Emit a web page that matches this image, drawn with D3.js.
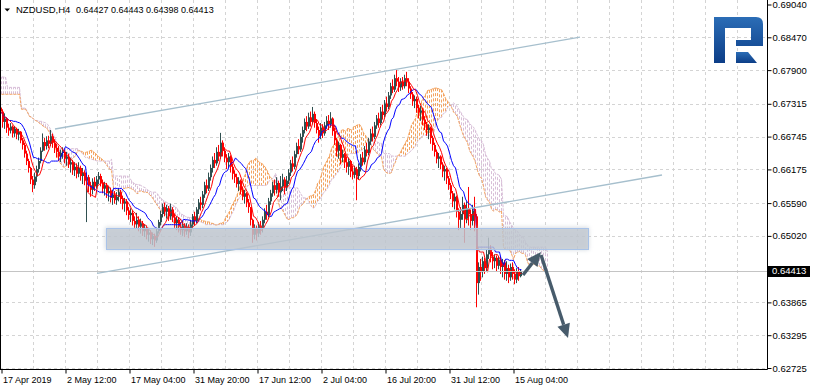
<!DOCTYPE html>
<html>
<head>
<meta charset="utf-8">
<script src="https://cdn.jsdelivr.net/npm/d3@7"></script>
<style>
  html, body { margin: 0; padding: 0; background: #fff; }
  svg { display: block; }
</style>
</head>
<body>
<div id="chart"></div>
<script>
// NZDUSD H4, one entry per two H4 bars, prices in pips (0.0001)
const symbol = "NZDUSD,H4"
const lastBar = [0.64427, 0.64443, 0.64398, 0.64413]
const lastPrice = 0.64413
const firstOpen = 6725

const closes = [
  6718,6700,6706,6690,6685,6692,6680,6688,6678,6683,
  6668,6660,6645,6632,6620,6600,6590,6605,6618,6632,
  6650,6665,6658,6668,6662,6675,6664,6655,6648,6640,
  6646,6648,6636,6640,6626,6630,6616,6622,6610,6620,
  6606,6612,6598,6604,6590,6582,6596,6588,6600,6606,
  6594,6584,6590,6576,6580,6568,6574,6564,6570,6578,
  6566,6558,6562,6546,6538,6542,6528,6522,6530,6518,
  6524,6510,6516,6504,6508,6496,6502,6494,6510,6526,
  6540,6552,6544,6550,6536,6548,6534,6524,6530,6518,
  6512,6520,6510,6518,6508,6522,6536,6528,6548,6560,
  6556,6574,6590,6584,6604,6620,6634,6628,6648,6640,
  6664,6650,6638,6630,6640,6622,6610,6604,6592,6598,
  6582,6570,6576,6560,6552,6530,6504,6516,6506,6520,
  6514,6530,6544,6538,6562,6576,6590,6582,6594,6578,
  6588,6600,6586,6598,6612,6628,6622,6644,6658,6652,
  6674,6686,6700,6692,6708,6700,6714,6698,6686,6676,
  6690,6680,6694,6702,6696,6706,6684,6668,6650,6660,
  6638,6644,6630,6622,6632,6614,6608,6618,6606,6622,
  6638,6630,6652,6646,6666,6680,6674,6694,6706,6698,
  6718,6712,6732,6726,6746,6762,6756,6776,6770,6760,
  6770,6762,6776,6770,6758,6748,6736,6740,6724,6716,
  6720,6704,6696,6686,6690,6672,6660,6648,6636,6640,
  6626,6614,6618,6602,6590,6576,6562,6570,6544,6530,
  6540,6556,6532,6550,6540,6528,6546,6536,6420,6448,
  6440,6458,6446,6470,6480,6466,6458,6464,6450,6460,
  6448,6456,6436,6446,6430,6448,6436,6426,6440,6432,
  6441
]
const highs = [
  6729,6722,6715,6708,6697,6698,6694,6693,6690,6688,
  6684,6672,6664,6650,6636,6622,6606,6612,6624,6638,
  6656,6680,6672,6675,6676,6686,6680,6670,6662,6658,
  6652,6656,6652,6648,6645,6638,6634,6630,6628,6630,
  6624,6620,6616,6612,6608,6596,6602,6604,6606,6613,
  6610,6600,6596,6594,6588,6586,6582,6580,6578,6585,
  6582,6572,6568,6566,6552,6550,6546,6536,6542,6536,
  6532,6528,6522,6520,6516,6512,6508,6506,6516,6530,
  6546,6558,6560,6556,6554,6558,6552,6540,6536,6534,
  6526,6528,6524,6524,6522,6530,6540,6544,6552,6566,
  6570,6580,6596,6600,6612,6626,6640,6646,6656,6660,
  6681,6668,6656,6644,6646,6642,6628,6616,6610,6604,
  6600,6588,6582,6578,6566,6550,6532,6522,6520,6526,
  6528,6536,6550,6556,6568,6582,6596,6600,6604,6598,
  6606,6610,6604,6606,6618,6634,6640,6650,6664,6670,
  6680,6692,6706,6710,6716,6718,6726,6718,6704,6692,
  6698,6696,6700,6710,6712,6717,6708,6690,6672,6666,
  6662,6652,6646,6640,6638,6634,6624,6624,6622,6628,
  6644,6648,6658,6664,6672,6688,6692,6700,6712,6716,
  6726,6730,6738,6744,6752,6768,6774,6782,6790,6778,
  6776,6778,6782,6787,6776,6762,6752,6746,6744,6730,
  6728,6724,6710,6700,6696,6692,6676,6664,6652,6646,
  6642,6630,6624,6620,6606,6594,6580,6576,6572,6550,
  6552,6570,6560,6562,6587,6548,6556,6570,6540,6456,
  6462,6466,6464,6478,6499,6486,6474,6470,6468,6466,
  6466,6462,6460,6458,6452,6454,6456,6444,6446,6448,
  6444
]
const lows = [
  6705,6690,6688,6681,6676,6680,6673,6674,6670,6668,
  6663,6652,6638,6625,6612,6592,6578,6584,6596,6612,
  6628,6648,6650,6652,6654,6658,6655,6646,6638,6632,
  6630,6636,6628,6624,6620,6612,6608,6606,6602,6604,
  6598,6592,6590,6526,6578,6570,6574,6580,6584,6592,
  6588,6576,6572,6568,6562,6560,6556,6558,6556,6562,
  6558,6548,6544,6538,6530,6526,6520,6516,6514,6510,
  6506,6502,6500,6496,6492,6488,6486,6483,6490,6506,
  6520,6534,6536,6532,6528,6530,6526,6516,6512,6508,
  6504,6502,6500,6504,6498,6502,6516,6520,6524,6540,
  6546,6550,6568,6576,6580,6598,6612,6620,6624,6632,
  6636,6640,6630,6618,6620,6612,6600,6594,6586,6580,
  6574,6564,6558,6552,6542,6520,6490,6496,6494,6500,
  6504,6508,6524,6530,6534,6556,6570,6572,6576,6570,
  6564,6580,6574,6580,6592,6606,6614,6618,6638,6644,
  6648,6664,6680,6684,6688,6692,6696,6690,6680,6664,
  6670,6672,6676,6688,6686,6690,6676,6660,6640,6636,
  6626,6630,6620,6612,6608,6604,6600,6602,6564,6600,
  6614,6624,6626,6640,6642,6660,6666,6670,6688,6690,
  6694,6704,6708,6718,6722,6740,6750,6752,6762,6752,
  6754,6756,6758,6762,6750,6740,6728,6724,6716,6706,
  6702,6694,6686,6676,6670,6662,6650,6640,6628,6620,
  6618,6604,6598,6592,6582,6566,6552,6548,6534,6512,
  6514,6530,6490,6524,6520,6512,6520,6510,6378,6400,
  6424,6430,6436,6440,6462,6456,6444,6446,6440,6444,
  6436,6430,6426,6424,6420,6424,6426,6418,6420,6424,
  6430
]

// cloud over the first candles (built from bars left of the window)
const spanAStart = [6748,6748,6748,6748,6748,6748,6748,6748,6748,6748,6722,6722,6722]
const spanBStart = [6778,6778,6778,6760,6760,6760,6760,6760,6760,6760,6724,6724,6724]

// Ichimoku 9/26/52 expressed in 8h candles
const tenkanPeriod = 5
const kijunPeriod = 13
const senkouPeriod = 26
const cloudShift = 13

const priceTicks = [0.69040, 0.68470, 0.67900, 0.67315, 0.66745, 0.66175, 0.65590, 0.65020, 0.64413, 0.63865, 0.63295, 0.62725]
const timeLabels = ["17 Apr 2019", "2 May 12:00", "17 May 04:00", "31 May 20:00", "17 Jun 12:00", "2 Jul 04:00", "16 Jul 20:00", "31 Jul 12:00", "15 Aug 04:00"]
const labelEvery = 32
const gridEvery = 16

// drawn objects, [candle index, price]
const upperChannel = [[27, 0.66877], [289.5, 0.68475]]
const lowerChannel = [[48, 0.64367], [330.5, 0.66078]]
const supportZone = [[52.5, 0.65157], [293.5, 0.64792]]
const arrows = [
  [[261, 0.64341], [270, 0.64740]],
  [[270, 0.64688], [283.5, 0.63246]]
]

const W = 813, H = 390
const plotRight = 767, plotBottom = 369

const svg = d3.select('#chart').append('svg')
  .attr('width', W)
  .attr('height', H)
  .style('font-family', '"Liberation Sans", Arial, sans-serif')

const x = d3.scaleLinear().domain([0, 383]).range([1, 767])
const y = d3.scaleLinear().domain([0.62725, 0.69040]).range([368, 4.5])
const pip = v => v / 10000

const defs = svg.append('defs')
defs.append('clipPath').attr('id', 'plot')
  .append('rect').attr('x', 0).attr('y', 0).attr('width', plotRight).attr('height', plotBottom)
defs.append('filter').attr('id', 'soft')
  .attr('x', '-5%').attr('y', '-60%').attr('width', '110%').attr('height', '220%')
  .append('feGaussianBlur').attr('stdDeviation', 2.2)
const grad = defs.append('linearGradient').attr('id', 'logoGrad')
  .attr('x1', 0).attr('y1', 0).attr('x2', 0).attr('y2', 1)
grad.append('stop').attr('offset', '0%').attr('stop-color', '#2b6db6')
grad.append('stop').attr('offset', '100%').attr('stop-color', '#0c3d87')

const plot = svg.append('g').attr('clip-path', 'url(#plot)')

// grid
const gridColor = '#d4d4d4'
plot.append('g').selectAll('line')
  .data(priceTicks.slice(1))
  .join('line')
  .attr('x1', 0).attr('x2', plotRight)
  .attr('y1', d => Math.round(y(d)) + 0.5)
  .attr('y2', d => Math.round(y(d)) + 0.5)
  .attr('stroke', gridColor)
  .attr('stroke-dasharray', '3,3')

plot.append('g').selectAll('line')
  .data(d3.range(gridEvery, 384, gridEvery))
  .join('line')
  .attr('x1', d => x(d) + 0.5).attr('x2', d => x(d) + 0.5)
  .attr('y1', 0).attr('y2', plotBottom)
  .attr('stroke', gridColor)
  .attr('stroke-dasharray', '3,3')

// ichimoku
function midRange(period, i) {
  const from = Math.max(0, i - period + 1)
  return (d3.max(highs.slice(from, i + 1)) + d3.min(lows.slice(from, i + 1))) / 2
}
const tenkan = closes.map((c, i) => midRange(tenkanPeriod, i))
const kijun = closes.map((c, i) => midRange(kijunPeriod, i))
const cloud = []
spanAStart.forEach((a, i) => cloud.push({i: i, a: a, b: spanBStart[i]}))
closes.forEach((c, i) => {
  cloud.push({i: i + cloudShift, a: (tenkan[i] + kijun[i]) / 2, b: midRange(senkouPeriod, i)})
})

const sandy = '#f4a460', thistle = '#d8bfd8'
plot.append('g').selectAll('line')
  .data(cloud)
  .join('line')
  .attr('x1', d => x(d.i) + 0.5).attr('x2', d => x(d.i) + 0.5)
  .attr('y1', d => y(pip(d.a))).attr('y2', d => y(pip(d.b)))
  .attr('stroke', d => d.a >= d.b ? sandy : thistle)
  .attr('stroke-dasharray', '3,2')

const spanLine = key => d3.line().x(d => x(d.i) + 0.5).y(d => y(pip(d[key])))
plot.append('path').datum(cloud).attr('d', spanLine('b'))
  .attr('fill', 'none').attr('stroke', thistle).attr('stroke-dasharray', '3,1')
plot.append('path').datum(cloud).attr('d', spanLine('a'))
  .attr('fill', 'none').attr('stroke', sandy).attr('stroke-dasharray', '3,1')

// candles
const candles = closes.map((c, i) => {
  const o = i ? closes[i - 1] : firstOpen
  return {i: i, o: o, c: c, h: Math.max(highs[i], o, c), l: Math.min(lows[i], o, c)}
})
const candleColor = d => d.c >= d.o ? '#2f4f4f' : '#ff0000'

plot.append('g').selectAll('rect')
  .data(candles)
  .join('rect')
  .attr('x', d => x(d.i) - 1)
  .attr('width', 1)
  .attr('y', d => y(pip(d.h)))
  .attr('height', d => Math.max(1, y(pip(d.l)) - y(pip(d.h))))
  .attr('fill', candleColor)

plot.append('g').selectAll('rect')
  .data(candles)
  .join('rect')
  .attr('x', d => x(d.i) - 1)
  .attr('width', 2)
  .attr('y', d => y(pip(Math.max(d.o, d.c))))
  .attr('height', d => Math.max(1, Math.abs(y(pip(d.o)) - y(pip(d.c)))))
  .attr('fill', candleColor)

const indLine = d3.line().x((d, i) => x(i) + 0.5).y(d => y(pip(d)))
plot.append('path').datum(kijun).attr('d', indLine)
  .attr('fill', 'none').attr('stroke', '#0000ff').attr('stroke-width', 1)
plot.append('path').datum(tenkan).attr('d', indLine)
  .attr('fill', 'none').attr('stroke', '#ff0000').attr('stroke-width', 1)

// last price line
plot.append('line')
  .attr('x1', 0).attr('x2', plotRight)
  .attr('y1', Math.round(y(lastPrice)) + 0.5).attr('y2', Math.round(y(lastPrice)) + 0.5)
  .attr('stroke', '#c4c4c4')

// channel
const chan = d3.line().x(d => x(d[0])).y(d => y(d[1]))
;[upperChannel, lowerChannel].forEach(pts => {
  plot.append('path').attr('d', chan(pts))
    .attr('fill', 'none').attr('stroke', '#a6bfcd').attr('stroke-width', 1.3)
})

// zone
const zx = x(supportZone[0][0]), zw = x(supportZone[1][0]) - zx
const zy = y(supportZone[0][1]), zh = y(supportZone[1][1]) - zy
plot.append('rect')
  .attr('x', zx - 1).attr('y', zy - 1).attr('width', zw + 2).attr('height', zh + 2)
  .attr('fill', '#a9b3c0').attr('opacity', 0.45).attr('filter', 'url(#soft)')
plot.append('rect')
  .attr('x', zx + 0.5).attr('y', zy + 0.5).attr('width', zw).attr('height', zh)
  .attr('fill', 'rgba(192,199,208,0.72)')
  .attr('stroke', '#a8c2e8').attr('stroke-width', 1)

// arrows
const arrowColor = '#475b6b'
arrows.forEach(pts => {
  const x0 = x(pts[0][0]), y0 = y(pts[0][1])
  const x1 = x(pts[1][0]), y1 = y(pts[1][1])
  const ang = Math.atan2(y1 - y0, x1 - x0)
  const headLen = 14, headHalf = 6.5
  const bx = x1 - headLen * Math.cos(ang), by = y1 - headLen * Math.sin(ang)
  plot.append('line')
    .attr('x1', x0).attr('y1', y0).attr('x2', bx).attr('y2', by)
    .attr('stroke', arrowColor).attr('stroke-width', 3.4)
  const nx = -Math.sin(ang), ny = Math.cos(ang)
  plot.append('path')
    .attr('d', `M${x1},${y1}L${bx + nx * headHalf},${by + ny * headHalf}L${bx - nx * headHalf},${by - ny * headHalf}Z`)
    .attr('fill', arrowColor)
})

// frame
svg.append('line').attr('x1', 0.5).attr('x2', 0.5).attr('y1', 0).attr('y2', plotBottom + 0.5)
  .attr('stroke', '#000')
svg.append('line').attr('x1', 0).attr('x2', plotRight + 0.5).attr('y1', plotBottom + 0.5).attr('y2', plotBottom + 0.5)
  .attr('stroke', '#000')
svg.append('line').attr('x1', plotRight + 0.5).attr('x2', plotRight + 0.5).attr('y1', 0).attr('y2', plotBottom + 0.5)
  .attr('stroke', '#000')

// price axis
const yAxis = svg.append('g')
  .attr('transform', `translate(${plotRight + 0.5},0)`)
  .call(d3.axisRight(y).tickValues(priceTicks).tickFormat(d3.format('.5f')).tickSize(4).tickSizeOuter(0).tickPadding(1))
yAxis.select('.domain').remove()
yAxis.selectAll('text').attr('font-size', 9.5).attr('font-family', '"Liberation Sans", Arial, sans-serif').attr('fill', '#000')

svg.append('rect')
  .attr('x', plotRight + 1).attr('y', Math.round(y(lastPrice)) - 5)
  .attr('width', 42).attr('height', 11).attr('fill', '#000')
svg.append('text')
  .attr('x', plotRight + 5).attr('y', y(lastPrice) + 3.4)
  .attr('font-size', 9.5).attr('fill', '#fff')
  .text(d3.format('.5f')(lastPrice))

// time axis
const xAxis = svg.append('g')
  .attr('transform', `translate(0.5,${plotBottom + 0.5})`)
  .call(d3.axisBottom(x).tickValues(timeLabels.map((t, i) => i * labelEvery))
    .tickFormat((d, i) => timeLabels[i]).tickSize(4).tickSizeOuter(0))
xAxis.select('.domain').remove()
xAxis.selectAll('text')
  .attr('text-anchor', 'start').attr('x', 1)
  .attr('font-size', 9).attr('font-family', '"Liberation Sans", Arial, sans-serif').attr('fill', '#000')

// logo
const logo = svg.append('g').attr('fill', 'url(#logoGrad)')
logo.append('path')
  .attr('d', 'M714,17H756Q763,17 763,24V46H736V40H751V28H725V63H714Z')
logo.append('path')
  .attr('d', 'M736,52H748L757,63H736Z')

// title
svg.append('path').attr('d', 'M4.5,8.5H10L7.25,11.5Z').attr('fill', '#000')
svg.append('text').attr('x', 16).attr('y', 12.7).attr('font-size', 9.5).attr('fill', '#000')
  .text(symbol)
svg.append('text').attr('x', 76).attr('y', 12.7).attr('font-size', 9).attr('fill', '#000')
  .text(lastBar.map(d3.format('.5f')).join(' '))
</script>
</body>
</html>
